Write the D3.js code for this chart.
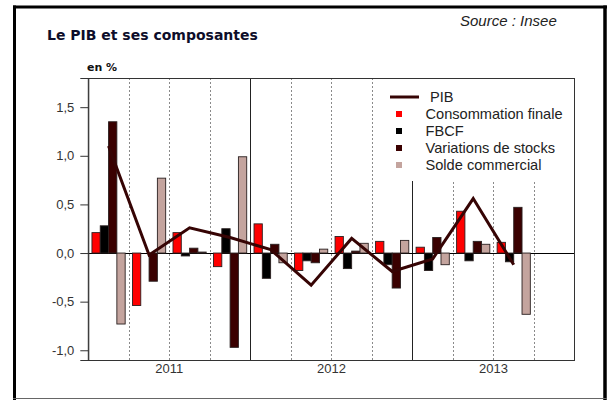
<!DOCTYPE html>
<html>
<head>
<meta charset="utf-8">
<script src="https://cdn.jsdelivr.net/npm/d3@7"></script>
<style>
  body { margin: 0; background: #fff; }
  svg { display: block; }
</style>
</head>
<body>
<svg id="chart" width="613" height="400"></svg>
<script>
const quarters = ['T1 2011', 'T2 2011', 'T3 2011', 'T4 2011',
                  'T1 2012', 'T2 2012', 'T3 2012', 'T4 2012',
                  'T1 2013', 'T2 2013', 'T3 2013', 'T4 2013'];
const years = ['2011', '2012', '2013'];
const yTicks = [-1.0, -0.5, 0, 0.5, 1.0, 1.5];

const pib    = [1.10, -0.02, 0.26, 0.16, 0.035, -0.33, 0.15, -0.19, -0.06, 0.56, -0.12];
const conso  = [0.21, -0.54, 0.21, -0.14, 0.30, -0.18, 0.17, 0.12, 0.06, 0.43, 0.11];
const fbcf   = [0.28, 0.00, -0.03, 0.25, -0.26, -0.08, -0.16, -0.12, -0.18, -0.08, -0.09];
const stocks = [1.35, -0.29, 0.05, -0.97, 0.09, -0.10, 0.02, -0.36, 0.16, 0.12, 0.47];
const solde  = [-0.73, 0.77, 0.01, 0.99, -0.10, 0.04, 0.10, 0.13, -0.12, 0.09, -0.63];

const seriesNames = ['Consommation finale', 'FBCF', 'Variations de stocks', 'Solde commercial'];
const seriesValues = [conso, fbcf, stocks, solde];
const seriesColors = ['#ff0000', '#000000', '#3a0000', '#c4a49e'];
const lineColor = '#360404';

const svg = d3.select('#chart');

// outer frame
svg.append('line').attr('x1', 14.5).attr('y1', 5.5).attr('x2', 14.5).attr('y2', 400)
  .attr('stroke', '#000').attr('stroke-width', 3);
svg.append('line').attr('x1', 13).attr('y1', 7).attr('x2', 607).attr('y2', 7)
  .attr('stroke', '#000').attr('stroke-width', 3);
svg.append('line').attr('x1', 605).attr('y1', 5.5).attr('x2', 605).attr('y2', 400)
  .attr('stroke', '#000').attr('stroke-width', 3.5);
svg.append('line').attr('x1', 13).attr('y1', 398.5).attr('x2', 607).attr('y2', 398.5)
  .attr('stroke', '#666').attr('stroke-width', 1);

// titles
svg.append('text').attr('x', 47).attr('y', 40)
  .attr('font-family', 'DejaVu Sans').attr('font-weight', 'bold').attr('font-size', 14)
  .attr('fill', '#0d0d2a').text('Le PIB et ses composantes');
svg.append('text').attr('x', 460).attr('y', 26)
  .attr('font-family', 'Liberation Sans').attr('font-style', 'italic').attr('font-size', 15)
  .attr('fill', '#222').text('Source : Insee');
svg.append('text').attr('x', 87).attr('y', 70.5)
  .attr('font-family', 'DejaVu Sans').attr('font-weight', 'bold').attr('font-size', 11)
  .attr('fill', '#111').text('en %');

const plotLeft = 88.3, plotRight = 574.5, plotTop = 78, plotBottom = 360;

const x = d3.scaleBand().domain(quarters).range([plotLeft, plotRight]).padding(0);
const xs = d3.scaleBand().domain(seriesNames).range([0, x.bandwidth()])
  .paddingInner(0).paddingOuter(0.44);
const y = d3.scaleLinear().domain([-1.1, 1.8]).range([plotBottom, plotTop]);

const g = svg.append('g');

// quarter / year separators
quarters.forEach((q, i) => {
  if (i === 0) return;
  const xp = Math.round(x(q)) + 0.5;
  const isYear = i % 4 === 0;
  g.append('line')
    .attr('x1', xp).attr('x2', xp).attr('y1', plotTop).attr('y2', plotBottom)
    .attr('stroke', isYear ? '#222' : '#8a8a8a')
    .attr('stroke-width', 1)
    .attr('stroke-dasharray', isYear ? null : '2,2');
});

// legend background (covers separators)
const lg = svg.append('g');
lg.append('rect').attr('x', 384).attr('y', plotTop + 1).attr('width', plotRight - 385).attr('height', 102)
  .attr('fill', '#fff');

// zero line
g.append('line')
  .attr('x1', plotLeft).attr('x2', plotRight)
  .attr('y1', Math.round(y(0)) + 0.5).attr('y2', Math.round(y(0)) + 0.5)
  .attr('stroke', '#000').attr('stroke-width', 1);

// bars
seriesNames.forEach((name, si) => {
  g.selectAll('.bar-' + si)
    .data(seriesValues[si])
    .join('rect')
    .attr('class', 'bar-' + si)
    .attr('x', (d, i) => x(quarters[i]) + xs(name))
    .attr('width', xs.bandwidth())
    .attr('y', d => y(Math.max(0, d)))
    .attr('height', d => Math.abs(y(d) - y(0)))
    .attr('fill', seriesColors[si])
    .attr('stroke', '#2a2020')
    .attr('stroke-width', 0.9);
});

// PIB line
const line = d3.line()
  .x((d, i) => x(quarters[i]) + x.bandwidth() / 2)
  .y(d => y(d));
g.append('path')
  .datum(pib)
  .attr('fill', 'none')
  .attr('stroke', lineColor)
  .attr('stroke-width', 3)
  .attr('stroke-linejoin', 'miter')
  .attr('d', line);

// plot frame
svg.append('rect')
  .attr('x', plotLeft).attr('y', plotTop + 0.5)
  .attr('width', plotRight - plotLeft).attr('height', plotBottom - plotTop)
  .attr('fill', 'none').attr('stroke', '#333').attr('stroke-width', 1);

// y axis
svg.append('g')
  .attr('transform', `translate(${plotLeft},0)`)
  .call(d3.axisLeft(y).tickValues(yTicks).tickSize(8).tickPadding(6)
    .tickFormat(d => d3.format('.1f')(d).replace('.', ',').replace('−', '-')))
  .call(a => a.select('.domain').attr('stroke', '#333'))
  .call(a => a.selectAll('.tick line').attr('stroke', '#333'))
  .call(a => a.selectAll('text')
    .attr('font-family', 'Liberation Sans').attr('font-size', 13).attr('fill', '#333'));

// year labels
svg.append('g').selectAll('text')
  .data(years)
  .join('text')
  .attr('x', (d, i) => (x(quarters[i * 4]) + x(quarters[i * 4 + 3]) + x.bandwidth()) / 2)
  .attr('y', 373)
  .attr('text-anchor', 'middle')
  .attr('font-family', 'Liberation Sans').attr('font-size', 13).attr('fill', '#333')
  .text(d => d);

// legend
const legendRows = ['PIB'].concat(seriesNames);
legendRows.forEach((name, i) => {
  const cy = 97 + i * 17;
  if (i === 0) {
    lg.append('line').attr('x1', 390).attr('x2', 419).attr('y1', cy).attr('y2', cy)
      .attr('stroke', lineColor).attr('stroke-width', 3);
  } else {
    lg.append('rect').attr('x', 396).attr('y', cy - 3).attr('width', 6).attr('height', 6)
      .attr('fill', seriesColors[i - 1]);
  }
  lg.append('text').attr('x', i === 0 ? 430 : 425.5).attr('y', cy + 5)
    .attr('font-family', 'Liberation Sans').attr('font-size', 14.6).attr('fill', '#222')
    .text(name);
});
</script>
</body>
</html>
